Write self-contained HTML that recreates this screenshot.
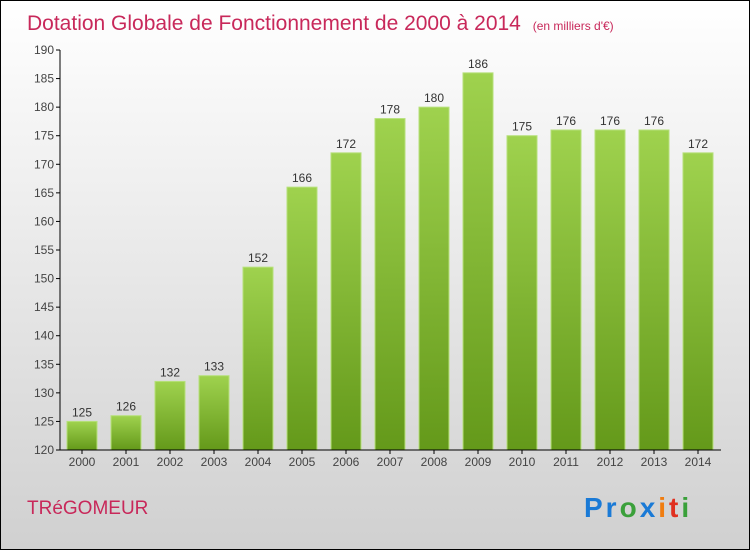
<!DOCTYPE html>
<html><head><meta charset="utf-8"><style>
body{margin:0}
#c{width:750px;height:550px;position:relative;font-family:"Liberation Sans",sans-serif;}
</style></head><body>
<div id="c">
<svg id="s" width="750" height="550" xmlns="http://www.w3.org/2000/svg">
<defs>
<linearGradient id="bg" x1="0" y1="0" x2="0" y2="1"><stop offset="0" stop-color="#ffffff"/><stop offset="1" stop-color="#d0d0d0"/></linearGradient>
<linearGradient id="bar" x1="0" y1="0" x2="0" y2="1"><stop offset="0" stop-color="#9fd24e"/><stop offset="1" stop-color="#64991a"/></linearGradient>
</defs>
<rect x="0.5" y="0.5" width="749" height="549" fill="url(#bg)" stroke="#000"/>
<text x="27" y="30" font-size="21" fill="#c8285a">Dotation Globale de Fonctionnement de 2000 à 2014 <tspan font-size="12" dx="6">(en milliers d'€)</tspan></text>
<text x="27" y="514" font-size="19" fill="#c8285a">TRéGOMEUR</text>
<g id="plot"></g>
<text x="584" y="517" font-size="28" font-weight="bold" letter-spacing="3"><tspan fill="#1a7ad6">Pr</tspan><tspan fill="#3aa03a">o</tspan><tspan fill="#1a7ad6">x</tspan><tspan fill="#f07d10">i</tspan><tspan fill="#e03020">t</tspan><tspan fill="#3aa03a">i</tspan></text>
</svg>
</div>
<script>
const years=["2000","2001","2002","2003","2004","2005","2006","2007","2008","2009","2010","2011","2012","2013","2014"];
const values=[125,126,132,133,152,166,172,178,180,186,175,176,176,176,172];
const yTicks=[120,125,130,135,140,145,150,155,160,165,170,175,180,185,190];
const NS="http://www.w3.org/2000/svg";
const g=document.getElementById('plot');
const y=v=>450-(v-120)/70*400;
const x=i=>82+i*44;
function mk(t,a){const e=document.createElementNS(NS,t);for(const k in a)e.setAttribute(k,a[k]);g.appendChild(e);return e;}
yTicks.forEach(v=>{
  const l=mk('line',{x1:56,x2:60,y1:y(v),y2:y(v),stroke:'#000'});
  
  
  const t=mk('text',{x:54,y:y(v)+4,'font-size':12,fill:'#444','text-anchor':'end'});
  t.textContent=v;
  
  
});
values.forEach((v,i)=>{
  const r=mk('rect',{x:x(i)-15,y:y(v),width:30,height:450-y(v),fill:'url(#bar)',stroke:'#b6e07a','stroke-width':1});
  
  
  const t=mk('text',{x:x(i),y:y(v)-5,'font-size':12,fill:'#333','text-anchor':'middle'});
  t.textContent=v;
  
  
  const tk=mk('line',{x1:x(i),x2:x(i),y1:450,y2:454,stroke:'#000'});
  
  
  const xl=mk('text',{x:x(i),y:466,'font-size':12,fill:'#444','text-anchor':'middle'});
  xl.textContent=years[i];
  
  
});
const ya=mk('line',{x1:60,x2:60,y1:50,y2:450,stroke:'#000'});


const xa=mk('line',{x1:60,x2:721,y1:450,y2:450,stroke:'#000'});


</script>
</body></html>
